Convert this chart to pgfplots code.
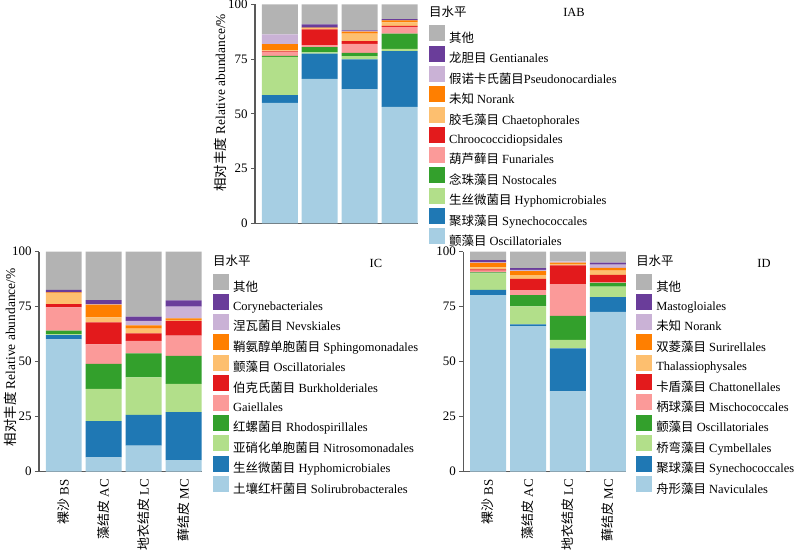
\documentclass[border=0pt]{standalone}
\usepackage{fontspec}
\setmainfont{Liberation Serif}
\newfontfamily\cjk{Noto Sans CJK SC}
\newcommand{\zh}[1]{{\cjk #1}}
\usepackage{pgfplots}
\usepackage{pgfplotstable}
\pgfplotsset{compat=1.18}

\definecolor{p1}{HTML}{A6CEE3}
\definecolor{p2}{HTML}{1F78B4}
\definecolor{p3}{HTML}{B2DF8A}
\definecolor{p4}{HTML}{33A02C}
\definecolor{p5}{HTML}{FB9A99}
\definecolor{p6}{HTML}{E31A1C}
\definecolor{p7}{HTML}{FDBF6F}
\definecolor{p8}{HTML}{FF7F00}
\definecolor{p9}{HTML}{CAB2D6}
\definecolor{p10}{HTML}{6A3D9A}
\definecolor{p11}{HTML}{B3B3B3}
\definecolor{axc}{HTML}{595959}

\pgfplotscreateplotcyclelist{paired}{
{fill=p1,draw=none},{fill=p2,draw=none},{fill=p3,draw=none},{fill=p4,draw=none},
{fill=p5,draw=none},{fill=p6,draw=none},{fill=p7,draw=none},{fill=p8,draw=none},
{fill=p9,draw=none},{fill=p10,draw=none},{fill=p11,draw=none}}

% IAB: Oscillatoriales, Synechococcales, Hyphomicrobiales, Nostocales, Funariales,
% Chroococcidiopsidales, Chaetophorales, Norank, Pseudonocardiales, Gentianales, Other
\pgfplotstableread{
x c1 c2 c3 c4 c5 c6 c7 c8 c9 c10 c11
0 55.0 3.5 17.5 0.5 1.7 0.3 0.5 2.8 4.5 0.0 13.7
1 65.9 11.6 0.5 2.4 0.9 7.2 0.6 0.3 0.0 1.4 9.2
2 61.2 13.7 1.4 1.5 4.1 1.3 3.4 0.9 0.3 0.3 11.9
3 53.2 25.4 1.0 7.0 3.1 0.4 1.7 0.8 0.0 0.6 6.8
}\tIAB
% IC
\pgfplotstableread{
x c1 c2 c3 c4 c5 c6 c7 c8 c9 c10 c11
0 60.2 1.9 0.3 1.7 10.6 1.5 5.0 0.3 0.0 1.1 17.4
1 6.5 16.5 14.6 11.4 8.9 10.0 2.3 5.7 0.3 1.8 22.0
2 11.8 14.0 17.1 10.9 5.7 3.4 2.1 1.5 2.0 2.0 29.5
3 5.3 21.8 12.8 12.8 9.1 6.7 0.5 0.7 5.3 2.9 22.1
}\tIC
% ID
\pgfplotstableread{
x c1 c2 c3 c4 c5 c6 c7 c8 c9 c10 c11
0 80.3 2.3 7.6 0.4 0.8 0.6 0.9 2.0 0.4 0.9 3.8
1 66.2 0.8 8.2 5.1 2.2 5.1 1.8 1.8 0.5 0.8 7.5
2 36.5 19.6 3.8 10.9 14.5 8.5 0.7 0.5 0.6 0.0 4.4
3 72.6 6.7 4.8 1.7 0.4 3.3 1.9 1.2 1.5 0.9 5.0
}\tID

\newcommand{\fs}{\fontsize{12.5}{14}\selectfont}

\pgfplotsset{
 panel/.style={
   ybar stacked, bar width=0.9,
   scale only axis, width=163bp,
   xmin=-0.62, xmax=3.46, ymin=0, ymax=100,
   axis x line*=bottom, axis y line*=left,
   axis line style={draw=axc, line width=1.3bp},
   ytick={0,25,50,75,100},
   tick align=outside, major tick length=4bp,
   ytick style={draw=axc, line width=1bp},
   xtick style={draw=none},
   tick label style={font=\fontsize{13}{15}\selectfont},
   /pgf/number format/assume math mode=true,
   cycle list name=paired,
   clip=false,
   reverse legend,
   legend cell align=left,
   legend image code/.code={\fill[##1] (0bp,-3.3bp) rectangle (16bp,12.7bp);},
   legend style={draw=none, fill=none, inner sep=0pt, anchor=north west,
     font=\fs, row sep=1.7bp, nodes={inner sep=0pt},
     /tikz/every odd column/.append style={column sep=4bp}},
   ylabel style={font=\fontsize{13.5}{15}\selectfont, anchor=center},
 },
 catx/.style={
   xtick={0,1,2,3},
   xticklabels={\zh{裸沙} BS,\zh{藻结皮} AC,\zh{地衣结皮} LC,\zh{藓结皮} MC},
   xticklabel style={rotate=90, anchor=east, font=\fontsize{13}{15}\selectfont},
 }
}

\begin{document}
\begin{tikzpicture}
\useasboundingbox (0bp,0bp) rectangle (800bp,550bp);

% ---------- IAB ----------
\begin{axis}[panel, at={(255bp,326.7bp)}, anchor=south west, height=219bp,
  xtick=\empty,
  ylabel={\zh{相对丰度} Relative abundance/\%},
  ylabel style={at={(axis description cs:-0.215,0.55)}},
  legend style={at={(1.0675,0.905)}}]
\addplot table[x=x,y=c1]{\tIAB};
\addplot table[x=x,y=c2]{\tIAB};
\addplot table[x=x,y=c3]{\tIAB};
\addplot table[x=x,y=c4]{\tIAB};
\addplot table[x=x,y=c5]{\tIAB};
\addplot table[x=x,y=c6]{\tIAB};
\addplot table[x=x,y=c7]{\tIAB};
\addplot table[x=x,y=c8]{\tIAB};
\addplot table[x=x,y=c9]{\tIAB};
\addplot table[x=x,y=c10]{\tIAB};
\addplot table[x=x,y=c11]{\tIAB};
\legend{\zh{颤藻目} Oscillatoriales,\zh{聚球藻目} Synechococcales,\zh{生丝微菌目} Hyphomicrobiales,\zh{念珠藻目} Nostocales,\zh{葫芦藓目} Funariales,Chroococcidiopsidales,\zh{胶毛藻目} Chaetophorales,\zh{未知} Norank,\zh{假诺卡氏菌目}Pseudonocardiales,\zh{龙胆目} Gentianales,\zh{其他}}
\node[anchor=west, font=\fs, inner sep=0pt] at (rel axis cs:1.0675,0.965) {\zh{目水平}};
\node[anchor=center, font=\fs, inner sep=0pt] at (rel axis cs:1.957,0.965) {IAB};
\end{axis}

% ---------- IC ----------
\begin{axis}[panel, catx, at={(39bp,78.3bp)}, anchor=south west, height=220bp,
  ylabel={\zh{相对丰度} Relative abundance/\%},
  ylabel style={at={(axis description cs:-0.178,0.52)}},
  legend style={at={(1.067,0.9)}}]
\addplot table[x=x,y=c1]{\tIC};
\addplot table[x=x,y=c2]{\tIC};
\addplot table[x=x,y=c3]{\tIC};
\addplot table[x=x,y=c4]{\tIC};
\addplot table[x=x,y=c5]{\tIC};
\addplot table[x=x,y=c6]{\tIC};
\addplot table[x=x,y=c7]{\tIC};
\addplot table[x=x,y=c8]{\tIC};
\addplot table[x=x,y=c9]{\tIC};
\addplot table[x=x,y=c10]{\tIC};
\addplot table[x=x,y=c11]{\tIC};
\legend{\zh{土壤红杆菌目} Solirubrobacterales,\zh{生丝微菌目} Hyphomicrobiales,\zh{亚硝化单胞菌目} Nitrosomonadales,\zh{红螺菌目} Rhodospirillales,Gaiellales,\zh{伯克氏菌目} Burkholderiales,\zh{颤藻目} Oscillatoriales,\zh{鞘氨醇单胞菌目} Sphingomonadales,\zh{涅瓦菌目} Nevskiales,Corynebacteriales,\zh{其他}}
\node[anchor=west, font=\fs, inner sep=0pt] at (rel axis cs:1.067,0.959) {\zh{目水平}};
\node[anchor=center, font=\fs, inner sep=0pt] at (rel axis cs:2.067,0.948) {IC};
\end{axis}

% ---------- ID ----------
\begin{axis}[panel, catx, at={(463.3bp,78.3bp)}, anchor=south west, height=220bp,
  legend style={at={(1.06,0.9)}}]
\addplot table[x=x,y=c1]{\tID};
\addplot table[x=x,y=c2]{\tID};
\addplot table[x=x,y=c3]{\tID};
\addplot table[x=x,y=c4]{\tID};
\addplot table[x=x,y=c5]{\tID};
\addplot table[x=x,y=c6]{\tID};
\addplot table[x=x,y=c7]{\tID};
\addplot table[x=x,y=c8]{\tID};
\addplot table[x=x,y=c9]{\tID};
\addplot table[x=x,y=c10]{\tID};
\addplot table[x=x,y=c11]{\tID};
\legend{\zh{舟形藻目} Naviculales,\zh{聚球藻目} Synechococcales,\zh{桥弯藻目} Cymbellales,\zh{颤藻目} Oscillatoriales,\zh{柄球藻目} Mischococcales,\zh{卡盾藻目} Chattonellales,Thalassiophysales,\zh{双菱藻目} Surirellales,\zh{未知} Norank,Mastogloiales,\zh{其他}}
\node[anchor=west, font=\fs, inner sep=0pt] at (rel axis cs:1.06,0.959) {\zh{目水平}};
\node[anchor=center, font=\fs, inner sep=0pt] at (rel axis cs:1.845,0.948) {ID};
\end{axis}
\end{tikzpicture}
\end{document}
